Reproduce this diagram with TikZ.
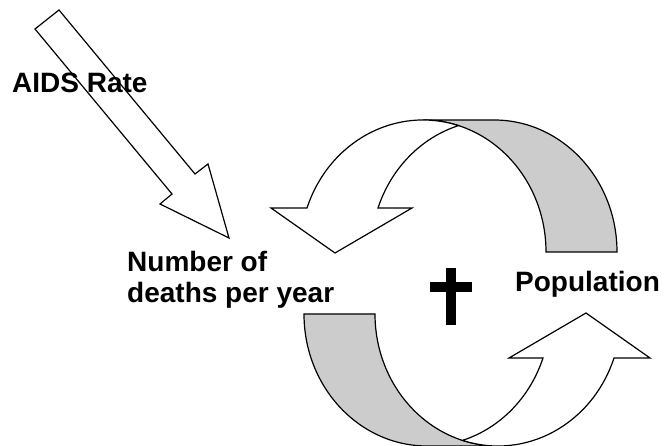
\documentclass[tikz,border=0pt]{standalone}
\usepackage{fontspec}
\setmainfont{Liberation Sans}
\usepackage{tikz}
\definecolor{ribbon}{RGB}{204,204,204}

\begin{document}
\begin{tikzpicture}[
  x=1pt, y=1pt,
  txt/.style={font=\bfseries\fontsize{28}{31}\selectfont, inner sep=0pt, anchor=base west, align=left},
  face/.style={draw=black, fill=white, line width=1.2pt, line join=miter},
  back/.style={draw=black, fill=ribbon, line width=1.2pt}
]
\useasboundingbox (0,0) rectangle (664,446);

% input arrow
\draw[face] (35,417) -- (59,436) -- (195,272) -- (208,282) -- (229,208) -- (160,242) -- (172,252) -- cycle;

% loop arrows, the lower one is the upper one turned round
\foreach \r in {0,180}{
  \begin{scope}[rotate around={\r:(460.5,163)}]
    \draw[back] (423,326) arc[start angle=90, end angle=0, x radius=123, y radius=132]
      -- (617,194) arc[start angle=0, end angle=90, x radius=123, y radius=132] -- cycle;
    \draw[face] (271,238) -- (307,238)
      arc[start angle=160.53, end angle=73.22, x radius=123, y radius=132]
      arc[start angle=106.78, end angle=160.53, x radius=123, y radius=132]
      -- (412,238) -- (335,193) -- cycle;
  \end{scope}
}

% cross
\fill (446,121) rectangle (456,178);
\fill (430,154) rectangle (472,164);

\node[txt] (aids) at (12,353) {AIDS Rate};
\node[txt] (deaths) at (127,143) {Number of\\deaths per year};
\node[txt] (pop) at (515,154) {Population};
\end{tikzpicture}
\end{document}
